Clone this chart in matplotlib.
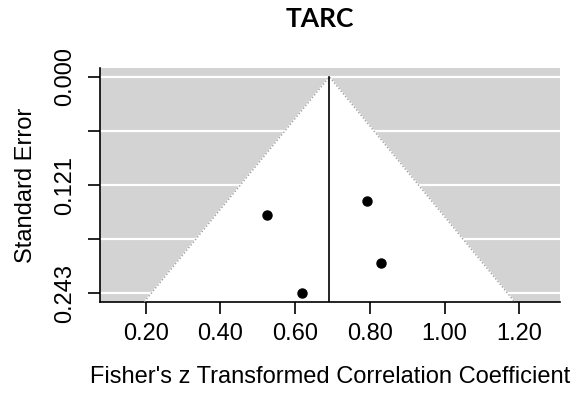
import numpy as np
import matplotlib
matplotlib.use("Agg")
import matplotlib.pyplot as plt

plt.rcParams["font.family"] = ["Liberation Sans", "DejaVu Sans"]

# study estimates (Fisher's z) and standard errors
yi = [0.524, 0.792, 0.829, 0.618]
sei = [0.155, 0.139, 0.209, 0.243]
est = 0.692  # pooled estimate (vertical line)
se_max = 0.243
yticks = [0.0, 0.0607, 0.1215, 0.1822, 0.243]
ytick_labels = ["0.000", "", "0.121", "", "0.243"]
xticks = [0.2, 0.4, 0.6, 0.8, 1.0, 1.2]

fig = plt.figure(figsize=(5.77, 3.96), dpi=100)
ax = fig.add_axes([0.1733, 0.2381, 0.7972, 0.5894])
ax.set_facecolor("#d3d3d3")

ylo, yhi = -0.0097, se_max + 0.0097
ax.set_xlim(0.078, 1.309)
ax.set_ylim(yhi, ylo)

for t in yticks:
    ax.axhline(t, color="white", lw=1.6, zorder=1)

half = 1.96 * yhi
ax.fill([est - half, est, est + half], [yhi, 0, yhi], color="white", zorder=2)
ax.plot([est - half, est, est + half], [yhi, 0, yhi], color="#a0a0a0",
        ls=(0, (1, 1.5)), lw=1, zorder=3)
ax.plot([est, est], [0, yhi], color="black", lw=1.2, zorder=4)
ax.plot(yi, sei, "o", color="black", ms=6.5, zorder=5)

for s in ["top", "right"]:
    ax.spines[s].set_visible(False)
for s in ["left", "bottom"]:
    ax.spines[s].set_linewidth(1.2)

ax.set_yticks(yticks)
ax.set_yticklabels(ytick_labels, rotation=90, va="center")
ax.set_xticks(xticks)
ax.set_xticklabels([f"{v:.2f}" for v in xticks])
ax.tick_params(length=8.5, width=1.2, labelsize=17, pad=7)
ax.tick_params(axis="y", pad=9)

ax.set_xlabel("Fisher's z Transformed Correlation Coefficient", fontsize=17, labelpad=15)
ax.set_ylabel("Standard Error", fontsize=17, labelpad=12)
fig.text(0.5537, 0.952, "TARC", fontsize=19, fontweight="bold",
         family=["Lato", "DejaVu Sans"], ha="center", va="center")

fig.savefig("out.png", dpi=100)
